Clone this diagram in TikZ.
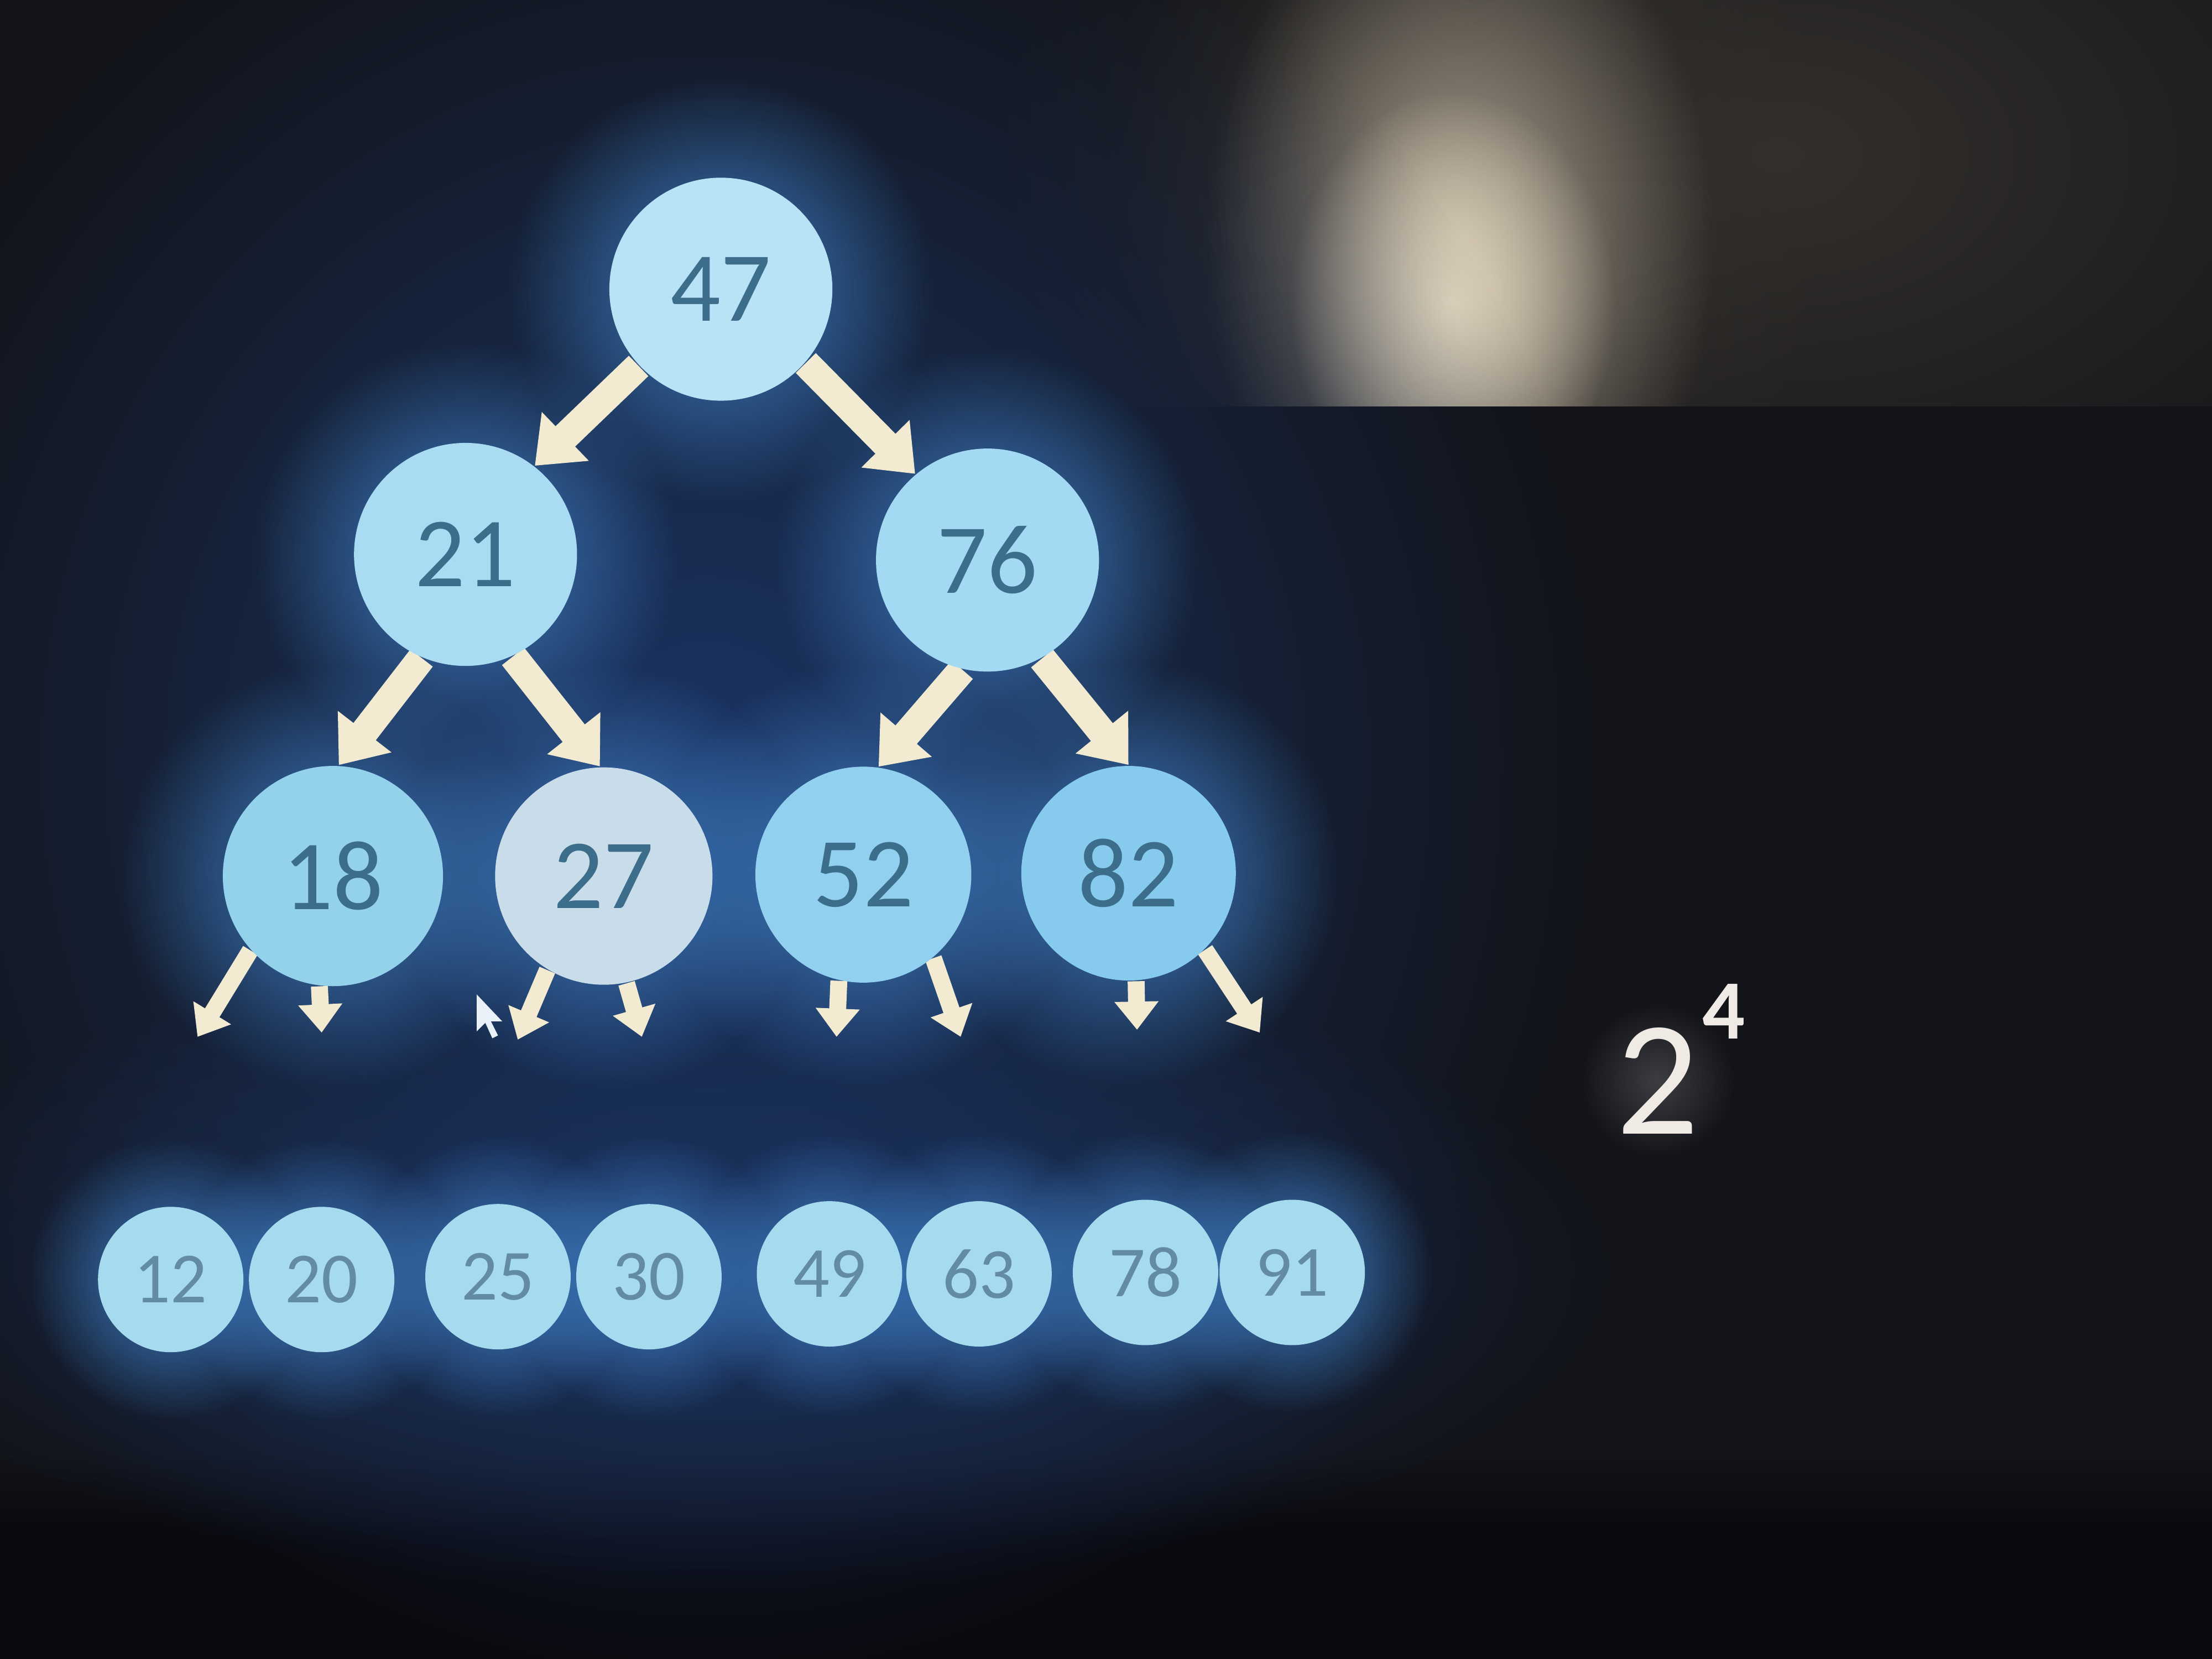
\documentclass[tikz,border=0pt]{standalone}
\usepackage{fontspec}
\setmainfont{Carlito}
\usetikzlibrary{arrows.meta,fadings}
\definecolor{bg}{HTML}{121419}
\definecolor{navy}{HTML}{1B3463}
\definecolor{glowc}{HTML}{3F7FC4}
\definecolor{greyzone}{HTML}{34302C}
\definecolor{spotc}{HTML}{E2D6BE}
\definecolor{arrowc}{HTML}{F3EAD2}
\definecolor{numc}{HTML}{3C6E8C}
\definecolor{c47}{HTML}{B8E2F6}
\definecolor{c21}{HTML}{A9DCF3}
\definecolor{c76}{HTML}{A3D9F2}
\definecolor{c18}{HTML}{93D2EA}
\definecolor{c27}{HTML}{C9DCEA}
\definecolor{c52}{HTML}{91D1EF}
\definecolor{c82}{HTML}{86CBEE}
\definecolor{cbot}{HTML}{A6DBEF}
\definecolor{powc}{HTML}{EFEAE3}
\definecolor{bandc}{HTML}{0A090D}
\tikzfading[name=glowfade, inner color=transparent!0, outer color=transparent!100]
\pgfdeclarelayer{back}
\pgfdeclarelayer{arrowlayer}
\pgfsetlayers{back,arrowlayer,main}
\tikzset{
  bignode/.style={circle, minimum size=1.58cm, inner sep=0pt, text=numc,
    font=\fontsize{20}{20}\selectfont},
  smallnode/.style={circle, minimum size=1.03cm, inner sep=0pt, fill=cbot, text=numc!80!white,
    font=\fontsize{14.5}{14.5}\selectfont},
  bigarrow/.style={draw=arrowc, line width=0.2cm, -{Triangle[width=0.46cm,length=0.3cm]}},
  smallarrow/.style={draw=arrowc, line width=0.12cm, -{Triangle[width=0.3cm,length=0.2cm]}},
  glow/.style={fill=glowc, path fading=glowfade}
}
\begin{document}
\begin{tikzpicture}[x=0.01cm,y=-0.01cm]
\useasboundingbox (0,0) rectangle (1568,1176);
% tree nodes
\node[bignode, fill=c47] (n47) at (511,205) {47};
\node[bignode, fill=c21] (n21) at (330,393) {21};
\node[bignode, fill=c76] (n76) at (700,397) {76};
\node[bignode, fill=c18, minimum size=1.56cm] (n18) at (236,621) {18};
\node[bignode, fill=c27, minimum size=1.54cm] (n27) at (428,621) {27};
\node[bignode, fill=c52, minimum size=1.53cm] (n52) at (612,620) {52};
\node[bignode, fill=c82, minimum size=1.52cm] (n82) at (800,619) {82};
% leaf row
\node[smallnode] (b12) at (121,907) {12};
\node[smallnode] (b20) at (228,907) {20};
\node[smallnode] (b25) at (353,905) {25};
\node[smallnode] (b30) at (460,905) {30};
\node[smallnode] (b49) at (588,903) {49};
\node[smallnode] (b63) at (694,903) {63};
\node[smallnode] (b78) at (812,902) {78};
\node[smallnode] (b91) at (916,902) {91};
% power
\node[text=powc, font=\fontsize{33}{33}\selectfont, inner sep=0pt] (two) at (1175,766) {2};
\node[text=powc, font=\fontsize{17}{17}\selectfont\bfseries, inner sep=0pt] (four) at (1222,717) {4};
% free ends of the small arrows
\coordinate (e18a) at (140,735);
\coordinate (e18b) at (228,732);
\coordinate (e27a) at (367,737);
\coordinate (e27b) at (455,735);
\coordinate (e52a) at (593,735);
\coordinate (e52b) at (681,735);
\coordinate (e82a) at (806,730);
\coordinate (e82b) at (893,732);
\begin{pgfonlayer}{back}
  \fill[bg] (0,0) rectangle (1568,1176);
  % top-right grey zone with glare
  \begin{scope}
    \clip (0,0) rectangle (1568,288);
    \fill[greyzone, path fading=glowfade] (1260,110) ellipse (560 and 360);
    \fill[greyzone, path fading=glowfade] (1050,130) ellipse (260 and 300);
    \fill[spotc!70!greyzone, path fading=glowfade] (1035,170) ellipse (180 and 260);
    \fill[spotc, path fading=glowfade] (1030,215) ellipse (115 and 150);
  \end{scope}
  % bottom dark band
  \shade[top color=bg, bottom color=bandc] (0,1030) rectangle (1568,1090);
  \fill[bandc] (0,1089) rectangle (1568,1176);
  % blue glow round the tree
  \fill[navy, path fading=glowfade] (500,540) ellipse (640 and 680);
  \fill[navy, path fading=glowfade] (510,900) ellipse (640 and 230);
  \foreach \n in {n47,n21,n76,n18,n27,n52,n82}
    \fill[glow] (\n) circle (150);
  \foreach \n in {b12,b20,b25,b30,b49,b63,b78,b91}
    \fill[glow] (\n) circle (100);
  % faint glow round the power
  \fill[white!18!bg, path fading=glowfade] (two) circle (55);
\end{pgfonlayer}
\begin{pgfonlayer}{arrowlayer}
  \draw[bigarrow] (n47.223) -- (n21.52);
  \draw[bigarrow] (n47.319) -- (n76.130);
  \draw[bigarrow] (n21.247) -- (n18.87);
  \draw[bigarrow] (n21.295) -- (n27.92);
  \draw[bigarrow] (n76.257) -- (n52.82);
  \draw[bigarrow] (n76.299) -- (n82.90);
  \draw[smallarrow] (n18.222) -- (e18a);
  \draw[smallarrow] (n18.263) -- (e18b);
  \draw[smallarrow] (n27.239) -- (e27a);
  \draw[smallarrow] (n27.282) -- (e27b);
  \draw[smallarrow] (n52.257) -- (e52a);
  \draw[smallarrow] (n52.310) -- (e52b);
  \draw[smallarrow] (n82.274) -- (e82a);
  \draw[smallarrow] (n82.315) -- (e82b);
\end{pgfonlayer}
% mouse pointer
\fill[white!88!glowc] (338,705) -- (338,731) -- (344,725) -- (349,736) -- (353,734) -- (348,724) -- (356,724) -- cycle;
\end{tikzpicture}
\end{document}
